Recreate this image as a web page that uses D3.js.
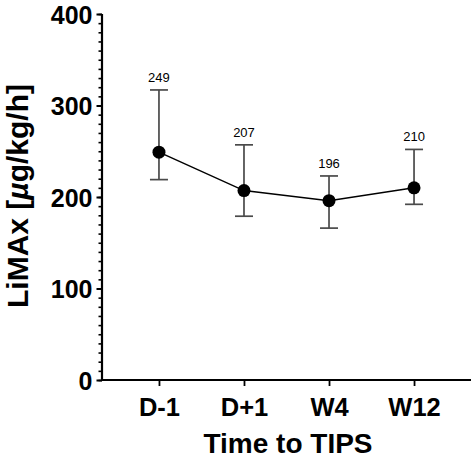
<!DOCTYPE html>
<html>
<head>
<meta charset="utf-8">
<script src="https://cdn.jsdelivr.net/npm/d3@7"></script>
<style>
  html, body { margin: 0; padding: 0; background: #fff; }
  svg { display: block; }
</style>
</head>
<body>
<svg id="chart" width="474" height="459"></svg>
<script>
const categories = ["D-1", "D+1", "W4", "W12"];
const means = [249, 207, 196, 210];
const upper = [317, 257, 223, 252];
const lower = [219, 179, 166, 192];
const meanLabels = ["249", "207", "196", "210"];
const yMajorTicks = [0, 100, 200, 300, 400];

const svg = d3.select("#chart");
const font = "'Liberation Sans', Arial, sans-serif";

const x = d3.scalePoint().domain(categories).range([102, 471]).padding(0.67);
const y = d3.scaleLinear().domain([0, 400]).range([380, 14]);

// minor y ticks
svg.append("g")
  .attr("transform", "translate(102,0)")
  .call(d3.axisLeft(y).tickValues(d3.range(0, 401, 10)).tickSize(3.5).tickSizeOuter(0).tickFormat(""))
  .call(g => g.select(".domain").remove())
  .call(g => g.selectAll("line").attr("stroke", "#000").attr("stroke-width", 1.6));

// major y axis
const yAxis = svg.append("g")
  .attr("transform", "translate(102,0)")
  .call(d3.axisLeft(y).tickValues(yMajorTicks).tickSize(5.5).tickSizeOuter(0).tickPadding(4));
yAxis.select(".domain").attr("stroke", "#000").attr("stroke-width", 2.2).attr("d", `M0,${y(400)}V${y(0)+1}`);
yAxis.selectAll("line").attr("stroke", "#000").attr("stroke-width", 2);
yAxis.selectAll("text")
  .attr("font-family", font).attr("font-weight", "bold").attr("font-size", 25).attr("fill", "#000")
  .attr("dy", "0.36em");

// x axis
const xAxis = svg.append("g")
  .attr("transform", "translate(0,380)")
  .call(d3.axisBottom(x).tickSize(6).tickSizeOuter(0).tickPadding(12));
xAxis.select(".domain").attr("stroke", "#000").attr("stroke-width", 2.2).attr("d", "M101,0H471");
xAxis.selectAll("line").attr("stroke", "#000").attr("stroke-width", 1.8);
xAxis.selectAll("text")
  .attr("font-family", font).attr("font-weight", "bold").attr("font-size", 25.5).attr("fill", "#000");

// axis titles
svg.append("text")
  .attr("x", 288).attr("y", 453)
  .attr("text-anchor", "middle")
  .attr("font-family", font).attr("font-weight", "bold").attr("font-size", 28)
  .text("Time to TIPS");

const yt = svg.append("text")
  .attr("transform", "translate(28,196) rotate(-90)")
  .attr("text-anchor", "middle")
  .attr("font-family", font).attr("font-weight", "bold").attr("font-size", 30);
yt.append("tspan").text("LiMAx [");
yt.append("tspan").attr("font-style", "italic").text("µ");
yt.append("tspan").text("g/kg/h]");

// error bars
const data = categories.map((c, i) => ({c, m: means[i], hi: upper[i], lo: lower[i], lab: meanLabels[i]}));
const eb = svg.append("g").attr("stroke", "#4a4a4a").attr("stroke-width", 1.7).attr("fill", "none");
data.forEach(d => {
  eb.append("line").attr("x1", x(d.c)).attr("x2", x(d.c)).attr("y1", y(d.hi)).attr("y2", y(d.lo));
  eb.append("line").attr("x1", x(d.c) - 9).attr("x2", x(d.c) + 9).attr("y1", y(d.hi)).attr("y2", y(d.hi));
  eb.append("line").attr("x1", x(d.c) - 9).attr("x2", x(d.c) + 9).attr("y1", y(d.lo)).attr("y2", y(d.lo));
});

// line
svg.append("path")
  .datum(data)
  .attr("fill", "none").attr("stroke", "#000").attr("stroke-width", 1.5)
  .attr("d", d3.line().x(d => x(d.c)).y(d => y(d.m)));

// points
svg.append("g").selectAll("circle").data(data).join("circle")
  .attr("cx", d => x(d.c)).attr("cy", d => y(d.m)).attr("r", 6.5).attr("fill", "#000");

// value labels
svg.append("g").selectAll("text").data(data).join("text")
  .attr("x", d => x(d.c)).attr("y", d => y(d.hi) - 8)
  .attr("text-anchor", "middle")
  .attr("font-family", font).attr("font-size", 13).attr("fill", "#000")
  .text(d => d.lab);
</script>
</body>
</html>
